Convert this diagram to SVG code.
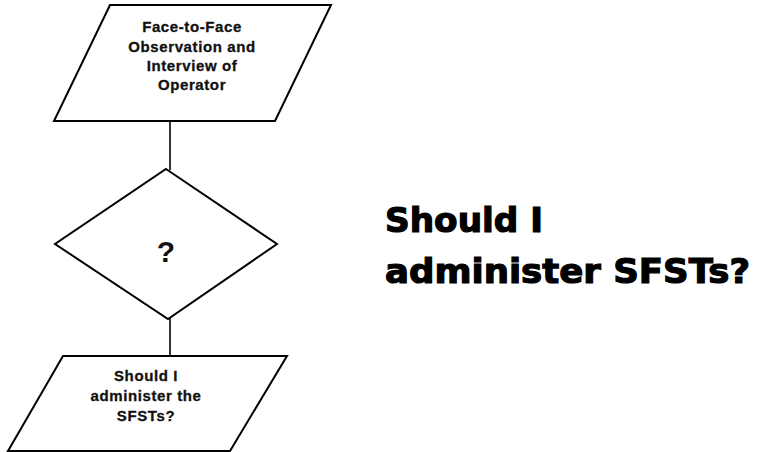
<svg xmlns="http://www.w3.org/2000/svg" width="761" height="452" viewBox="0 0 761 452">
  <style>
    .shape { fill: #ffffff; stroke: #000000; stroke-width: 2; stroke-linejoin: miter; }
    .link { stroke: #000000; stroke-width: 1.6; fill: none; }
    .lbl { font-family: "Liberation Sans", Arial, sans-serif; font-weight: bold; font-size: 15px; fill: #111111; stroke: #111111; stroke-width: 0.3; text-anchor: middle; letter-spacing: 0.6px; }
    .mark { font-family: "Liberation Sans", Arial, sans-serif; font-weight: bold; font-size: 30px; fill: #111111; text-anchor: middle; }
    .title { font-family: "DejaVu Sans", "Liberation Sans", sans-serif; font-weight: bold; font-size: 34px; fill: #000000; stroke: #000000; stroke-width: 1.2; }
  </style>
  <rect width="761" height="452" fill="#ffffff"/>

  <!-- connectors -->
  <g id="connectors">
    <line class="link" x1="170" y1="121" x2="170" y2="170"/>
    <line class="link" x1="170" y1="318" x2="170" y2="356"/>
  </g>

  <!-- input: observation / interview -->
  <g id="node-observation">
    <polygon class="shape" points="110,5 331,5 275,121 54,121"/>
    <text class="lbl" x="192" y="32">Face-to-Face</text>
    <text class="lbl" x="192" y="52">Observation and</text>
    <text class="lbl" x="192" y="71">Interview of</text>
    <text class="lbl" x="192" y="90">Operator</text>
  </g>

  <!-- decision -->
  <g id="node-decision">
    <polygon class="shape" points="166,169 277,244 168,319 55,244"/>
    <text class="mark" x="166" y="262">?</text>
  </g>

  <!-- output: SFST question -->
  <g id="node-sfst">
    <polygon class="shape" points="63,356 287,356 230,451 8,451"/>
    <text class="lbl" x="146" y="381">Should I</text>
    <text class="lbl" x="146" y="401">administer the</text>
    <text class="lbl" x="146" y="421">SFSTs?</text>
  </g>

  <!-- heading -->
  <g id="heading">
    <text class="title" x="385" y="232" textLength="158" lengthAdjust="spacingAndGlyphs">Should I</text>
    <text class="title" x="385" y="283" textLength="365" lengthAdjust="spacingAndGlyphs">administer SFSTs?</text>
  </g>
</svg>
